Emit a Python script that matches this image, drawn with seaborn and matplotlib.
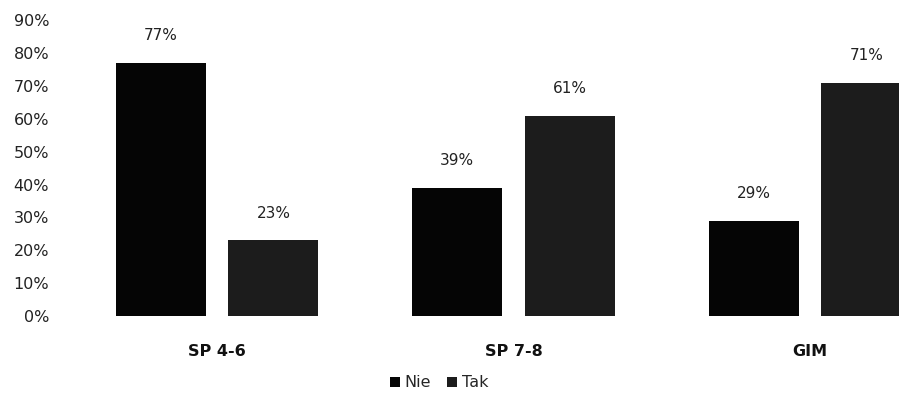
import numpy as np
import pandas as pd
import matplotlib
matplotlib.use("Agg")
import matplotlib.pyplot as plt
import seaborn as sns

groups = ["SP 4-6", "SP 7-8", "GIM"]
answers = ["Nie", "Tak"]
nie_vals = [0.77, 0.39, 0.29]
tak_vals = [0.23, 0.61, 0.71]
colors = ["#050505", "#1c1c1c"]

df = pd.DataFrame({
    "group": groups * 2,
    "answer": ["Nie"] * 3 + ["Tak"] * 3,
    "value": nie_vals + tak_vals,
})

sns.set_theme(style="white")
plt.rcParams["font.family"] = ["DejaVu Sans"]

fig = plt.figure(figsize=(8.99, 4.12), dpi=100)
ax = fig.add_axes([0.07, 0.233, 0.93, 0.718])

sns.barplot(data=df, x="group", y="value", hue="answer", hue_order=answers,
            palette=colors, width=0.76, gap=0.2, ax=ax, saturation=1,
            linewidth=0)

for cont in ax.containers:
    for bar in cont:
        h = bar.get_height()
        ax.annotate(f"{h * 100:.0f}%", (bar.get_x() + bar.get_width() / 2, h),
                    xytext=(0, 14), textcoords="offset points",
                    ha="center", va="bottom", fontsize=11, color="#222222")

ax.set_ylim(0, 0.9)
ax.set_xlim(-0.52, 2.30)
ax.set_yticks(np.arange(0, 0.91, 0.1))
ax.set_yticklabels([f"{int(round(t * 100))}%" for t in np.arange(0, 0.91, 0.1)])
ax.tick_params(axis="y", labelsize=11.5, pad=10, length=0, colors="#222222")
ax.tick_params(axis="x", labelsize=11.5, pad=20, length=0, colors="#111111")
for lab in ax.get_xticklabels():
    lab.set_fontweight("bold")
ax.set_xlabel("")
ax.set_ylabel("")
for s in ax.spines.values():
    s.set_visible(False)

ax.legend(loc="center", bbox_to_anchor=(0.45, -0.226), ncol=2, frameon=False,
          fontsize=11.5, handlelength=0.6, handleheight=0.6, handletextpad=0.3,
          columnspacing=1.0)

fig.savefig("out.png", dpi=100)
